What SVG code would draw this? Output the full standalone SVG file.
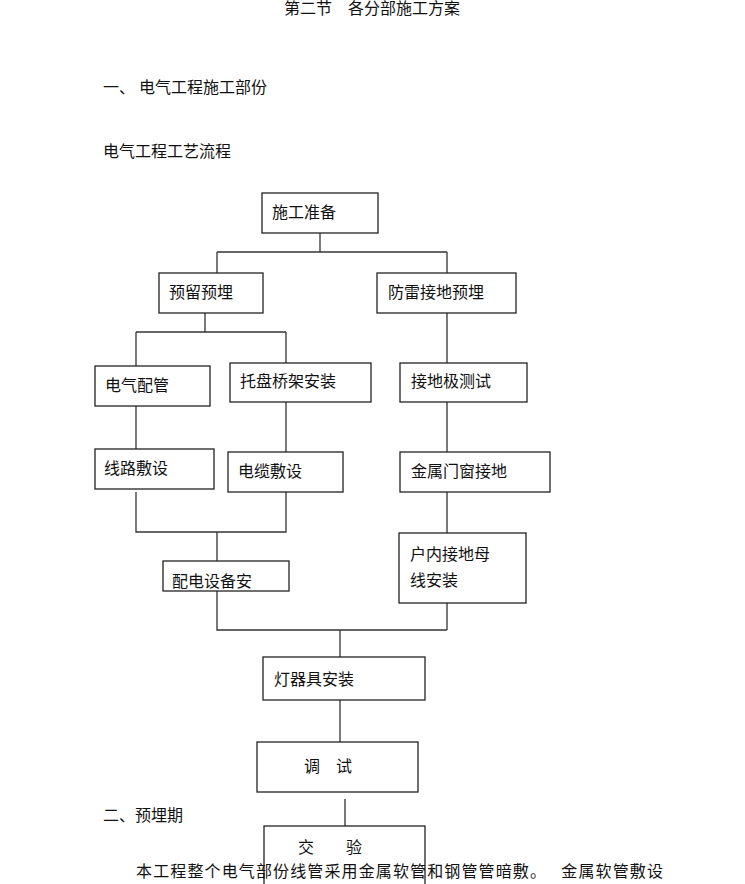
<svg xmlns="http://www.w3.org/2000/svg" width="745" height="884" viewBox="0 0 745 884">
<style>
text{font-family:"Liberation Serif","Noto Sans CJK SC",serif;font-size:16px;fill:#111}
.b{fill:#fff;stroke:#222;stroke-width:1.3}
.c{fill:none;stroke:#333;stroke-width:1.3}
</style>
<rect width="745" height="884" fill="#fff"/>
<text x="372" y="14" text-anchor="middle">第二节　各分部施工方案</text>
<text x="103" y="93">一、 电气工程施工部份</text>
<text x="103" y="157">电气工程工艺流程</text>
<g id="connectors">
<path class="c" d="M320 233V252M217 252H447M217 252V273M447 252V273"/>
<path class="c" d="M205 313V332M136 332H286M136 332V366M286 332V363"/>
<path class="c" d="M447 313V363M447 402V452M447 492V533M447 603V630"/>
<path class="c" d="M136 406V449M286 402V452M136 492V532H286V492M217 532V561M217 591V630H447M340 630V657M340 700V742M345 799V826"/>
</g>
<g id="n1"><rect class="b" x="262" y="193" width="116" height="40"/><text x="272" y="218">施工准备</text></g>
<g id="n2"><rect class="b" x="159" y="273" width="104" height="40"/><text x="169" y="298">预留预埋</text></g>
<g id="n3"><rect class="b" x="377" y="273" width="139" height="40"/><text x="388" y="298">防雷接地预埋</text></g>
<g id="n4"><rect class="b" x="95" y="366" width="115" height="40"/><text x="105" y="391">电气配管</text></g>
<g id="n5"><rect class="b" x="230" y="363" width="141" height="39"/><text x="240" y="387">托盘桥架安装</text></g>
<g id="n6"><rect class="b" x="400" y="363" width="127" height="39"/><text x="411" y="387">接地极测试</text></g>
<g id="n7"><rect class="b" x="95" y="449" width="119" height="40"/><text x="104" y="474">线路敷设</text></g>
<g id="n8"><rect class="b" x="228" y="452" width="115" height="40"/><text x="238" y="477">电缆敷设</text></g>
<g id="n9"><rect class="b" x="400" y="452" width="150" height="40"/><text x="411" y="477">金属门窗接地</text></g>
<g id="n10"><rect class="b" x="163" y="561" width="126" height="30"/><text x="172" y="587">配电设备安</text></g>
<g id="n11"><rect class="b" x="399" y="533" width="127" height="70"/><text x="410" y="560">户内接地母</text><text x="410" y="586">线安装</text></g>
<g id="n12"><rect class="b" x="263" y="657" width="162" height="43"/><text x="274" y="685">灯器具安装</text></g>
<g id="n13"><rect class="b" x="257" y="742" width="161" height="50"/><text x="304" y="772">调　试</text></g>
<g id="n14"><rect class="b" x="264" y="826" width="161" height="60"/><text x="298" y="853">交　　验</text></g>
<text x="103" y="821">二、预埋期</text>
<text x="136" y="877" textLength="527" lengthAdjust="spacing">本工程整个电气部份线管采用金属软管和钢管管暗敷。　 金属软管敷设</text>
</svg>
